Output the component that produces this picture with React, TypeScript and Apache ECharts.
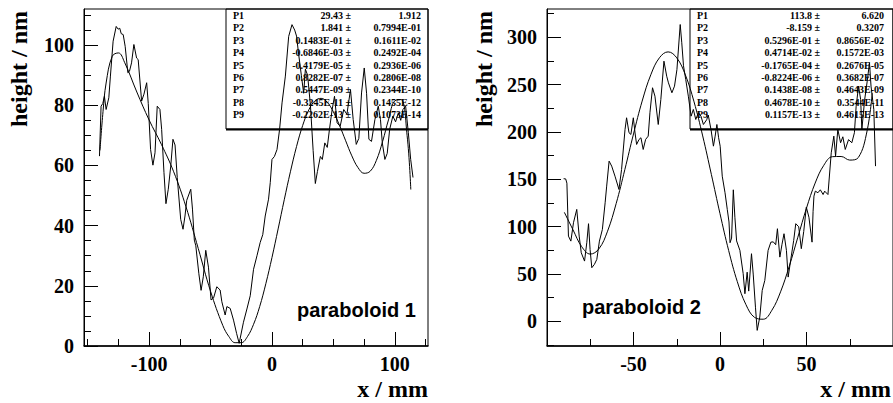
import React, { useEffect, useRef } from "react";
import * as echarts from "echarts";

// ---------- data: paraboloid 1 (left) ----------
const leftProfileX = [
  -140.4, -139.1, -137.7, -136.4, -135.0, -132.8, -131.5, -129.3, -126.8, -125.2, -123.9, -122.7, -121.1,
  -119.5, -117.3, -116.0, -114.3, -112.4, -110.2, -108.9, -106.1, -104.2, -102.0, -100.7, -98.8, -96.9,
  -95.2, -93.4, -91.2, -89.8, -87.9, -86.3, -84.4, -82.4, -80.6, -78.9, -77.1, -74.3, -72.4, -70.8,
  -69.4, -66.1, -64.7, -63.2, -62.0, -59.5, -57.7, -55.9, -53.9, -51.7, -49.6, -47.5, -44.9, -42.2,
  -40.8, -38.1, -36.7, -34.0, -31.3, -28.8, -26.7, -23.2, -20.4, -17.7, -15.0, -12.2, -9.6, -7.5,
  -5.5, -2.8, -1.4, 0.0, 2.0, 4.1, 6.2, 8.2, 10.9, 13.6, 16.3, 18.5, 20.0, 21.7, 23.9, 25.8, 27.2,
  29.0, 31.3, 33.5, 35.3, 37.0, 39.4, 41.0, 43.0, 45.0, 46.8, 49.0, 50.9, 53.0, 55.5, 58.4, 61.0,
  63.9, 66.1, 68.6, 70.7, 72.9, 75.1, 77.0, 78.9, 81.0, 83.8, 86.5, 88.3, 89.8, 91.9, 93.8, 95.8,
  98.4, 100.6, 102.9, 104.8, 106.6, 108.8, 111.0, 112.9, 114.8,
];
const leftProfileY = [
  63.1, 79.7, 80.6, 83.0, 78.6, 82.5, 89.7, 101.3, 106.2, 105.3, 105.6, 103.8, 103.5,
  99.6, 90.8, 91.3, 94.1, 100.2, 95.7, 95.2, 81.4, 83.7, 87.5, 80.6, 65.3, 60.1,
  64.2, 79.7, 78.6, 72.0, 57.6, 47.3, 52.1, 59.8, 68.7, 66.8, 56.0, 42.1, 38.8, 43.2,
  48.4, 52.1, 45.5, 35.2, 33.3, 24.0, 18.5, 23.0, 31.8, 26.2, 15.3, 16.0, 19.7, 18.6,
  14.7, 10.3, 13.1, 12.5, 8.6, 4.2, 0.9, 7.9, 12.3, 16.7, 25.5, 30.0, 34.4, 37.0,
  43.2, 48.8, 54.3, 62.0, 63.0, 65.3, 72.0, 80.8, 89.7, 102.9, 106.8, 105.0, 103.0, 97.0, 90.0, 84.0, 92.0,
  90.0, 80.0, 65.0, 54.0, 58.0, 63.0, 62.0, 67.5, 66.0, 72.0, 78.6, 83.0, 74.2, 73.0, 78.6, 77.0,
  85.2, 75.3, 67.0, 69.0, 84.1, 92.4, 84.0, 68.7, 68.0, 75.3, 79.7, 75.3, 67.5, 62.0, 64.0, 72.0,
  76.4, 74.5, 77.5, 75.0, 78.6, 79.7, 70.9, 62.0, 56.0,
];
const leftFitX = [
  -140, -137.5, -135, -130, -125, -120, -110, -100, -90, -80, -70, -60, -50, -40, -35, -30, -25, -20, -15,
  -10, -5, 0, 5, 10, 15, 20, 25, 30, 35, 40, 45, 50, 55, 60, 65, 70, 75, 80, 85, 90, 95, 100, 105, 110, 113,
];
const leftFitY = [
  65.0, 78.0, 87.4, 96.3, 97.4, 94.3, 84.4, 75.1, 67.0, 57.9, 46.3, 32.4, 18.2, 6.8, 3.1, 1.1, 1.1, 3.1, 7.2,
  13.1, 20.7, 29.4, 38.9, 48.6, 57.9, 66.3, 73.3, 78.5, 81.5, 82.3, 81.0, 77.8, 73.3, 68.2, 63.2, 59.3, 57.4,
  58.1, 61.7, 67.9, 75.4, 81.5, 81.9, 69.9, 52.0,
];

// ---------- data: paraboloid 2 (right) ----------
const rightProfileX = [
  -90.4, -89.2, -88.5, -87.6, -86.2, -84.7, -82.8, -81.4, -80.2, -78.3, -77.0, -76.0, -75.1, -74.1, -72.6,
  -71.2, -69.7, -68.0, -66.4, -65.5, -64.1, -62.6, -60.7, -58.4, -56.9, -54.9, -54.0, -52.6, -51.5, -50.1,
  -49.1, -48.2, -46.8, -45.7, -44.4, -43.0, -41.5, -40.5, -39.0, -37.6, -35.7, -34.2, -32.4, -30.8, -29.8,
  -27.8, -26.3, -24.9, -23.0, -22.1, -21.1, -19.8, -18.3, -16.7, -15.4, -14.0, -12.5, -11.0, -9.6, -7.7,
  -6.8, -5.2, -3.8, -2.8, -1.8, -0.8, 0.1, 1.3, 2.9, 4.2, 5.2, 5.8, 6.7, 7.7, 8.6, 9.6, 11.5, 13.4, 14.4,
  15.7, 16.6, 18.2, 19.2, 20.5, 21.5, 23.0, 24.4, 25.9, 27.8, 29.4, 30.8, 32.2, 33.2, 34.6, 35.8, 37.0,
  38.4, 39.4, 41.3, 42.6, 43.8, 45.5, 47.0, 48.4, 49.9, 51.4, 53.2, 53.8, 54.3, 55.1, 56.6, 58.0, 59.6,
  60.5, 62.4, 64.3, 65.8, 66.8, 68.1, 69.7, 71.0, 72.4, 74.3, 76.2, 77.7, 78.7, 80.1, 81.3, 82.0, 83.6,
  85.1, 86.4, 87.3, 88.9, 89.9,
];
const rightProfileY = [
  150.7, 150.5, 146.0, 90.1, 84.8, 104.2, 118.3, 90.1, 72.5, 63.7, 83.1, 103.2, 76.0, 56.7, 60.2,
  65.5, 84.8, 97.1, 125.3, 142.9, 169.3, 164.0, 153.4, 139.4, 160.5, 202.7, 215.1, 199.3, 197.5, 215.1,
  199.0, 186.9, 192.2, 194.0, 181.6, 192.2, 195.7, 220.4, 246.8, 237.9, 208.0, 234.4, 274.9, 259.0, 252.0,
  241.5, 248.5, 266.0, 313.6, 294.3, 270.0, 255.5, 237.9, 216.8, 223.9, 213.3, 220.4, 216.8, 208.0, 213.0,
  218.0, 202.7, 185.1, 195.7, 208.0, 194.0, 185.0, 153.4, 135.9, 118.3, 105.0, 83.1, 88.0, 139.0, 110.0,
  85.0, 75.0, 50.4, 29.2, 52.0, 32.0, 71.5, 50.0, 15.0, -9.5, 4.6, 32.7, 43.3, 75.0, 83.7, 84.0, 81.0,
  97.9, 67.9, 81.0, 92.6, 75.0, 46.8, 70.0, 85.5, 103.2, 100.0, 76.8, 95.0, 120.7, 110.0, 83.7, 116.0,
  132.3, 137.6, 135.9, 139.0, 134.0, 137.6, 134.0, 178.1, 195.7, 174.6, 202.7, 188.7, 195.0, 181.6,
  192.0, 188.7, 199.3, 227.3, 248.5, 234.4, 202.7, 234.0, 253.8, 273.2, 248.5, 223.9, 164.0,
];
const rightFitX = [
  -90, -85, -80, -75, -70, -65, -60, -55, -50, -45, -40, -35, -30, -25, -20, -15, -10, -5, 0, 5, 10, 15,
  20, 25, 30, 35, 40, 45, 50, 55, 60, 65, 70, 75, 80, 85, 88,
];
const rightFitY = [
  115.3, 96.9, 79.1, 71.1, 76.6, 95.3, 124.6, 160.4, 198.0, 232.7, 260.5, 278.5, 284.7, 278.4, 260.3,
  231.9, 195.9, 155.3, 113.8, 74.9, 42.0, 17.7, 4.2, 2.3, 11.8, 31.2, 58.1, 88.9, 119.7, 146.1, 164.9,
  174.0, 174.2, 170.4, 173.2, 201.1, 241.1,
];

// ---------- axis ticks ----------
const leftXMajor = [-100, 0, 100];
const leftXMinor = [-150, -125, -75, -50, -25, 25, 50, 75, 125];
const leftYMajor = [0, 20, 40, 60, 80, 100];
const leftYMinor = [5, 10, 15, 25, 30, 35, 45, 50, 55, 65, 70, 75, 85, 90, 95, 105, 110];
const rightXMajor = [-50, 0, 50];
const rightXMinor = [-75, -25, 25, 75];
const rightYMajor = [0, 50, 100, 150, 200, 250, 300];
const rightYMinor = [-25, 25, 75, 125, 175, 225, 275, 325];

// ---------- fit parameters ----------
const paramNames = ["P1", "P2", "P3", "P4", "P5", "P6", "P7", "P8", "P9"];
const leftParamValues = [
  "29.43", "1.841", "0.1483E-01", "-0.6846E-03", "-0.4179E-05", "0.8282E-07", "0.5447E-09", "-0.3245E-11", "-0.2262E-13",
];
const leftParamErrors = [
  "1.912", "0.7994E-01", "0.1611E-02", "0.2492E-04", "0.2936E-06", "0.2806E-08", "0.2344E-10", "0.1455E-12", "0.1073E-14",
];
const rightParamValues = [
  "113.8", "-8.159", "0.5296E-01", "0.4714E-02", "-0.1765E-04", "-0.8224E-06", "0.1438E-08", "0.4678E-10", "0.1157E-13",
];
const rightParamErrors = [
  "6.620", "0.3207", "0.8656E-02", "0.1572E-03", "0.2676E-05", "0.3682E-07", "0.4643E-09", "0.3544E-11", "0.4615E-13",
];

const SERIF = '"Liberation Serif", "Times New Roman", serif';
const SANS = '"Liberation Sans", Arial, sans-serif';

const zip = (xs: number[], ys: number[]) => xs.map((x, i) => [x, ys[i]]);

function majorX(gridIndex: number, min: number, max: number, values: number[]) {
  return {
    type: "value",
    gridIndex,
    min,
    max,
    position: "bottom",
    axisLine: { show: true, onZero: false, lineStyle: { color: "#000", width: 1.5 } },
    axisTick: { show: true, inside: true, length: 14, customValues: values, lineStyle: { color: "#000", width: 1 } },
    axisLabel: {
      show: true,
      customValues: values,
      margin: 8,
      color: "#000",
      fontFamily: SERIF,
      fontWeight: "bold",
      fontSize: 20,
    },
    splitLine: { show: false },
  };
}
function minorX(gridIndex: number, min: number, max: number, values: number[]) {
  return {
    type: "value",
    gridIndex,
    min,
    max,
    position: "bottom",
    axisLine: { show: false, onZero: false },
    axisTick: { show: true, inside: true, length: 7, customValues: values, lineStyle: { color: "#000", width: 1 } },
    axisLabel: { show: false },
    splitLine: { show: false },
  };
}
function majorY(gridIndex: number, min: number, max: number, values: number[]) {
  return {
    type: "value",
    gridIndex,
    min,
    max,
    position: "left",
    axisLine: { show: true, onZero: false, lineStyle: { color: "#000", width: 1 } },
    axisTick: { show: true, inside: true, length: 14, customValues: values, lineStyle: { color: "#000", width: 1 } },
    axisLabel: {
      show: true,
      customValues: values,
      margin: 10,
      color: "#000",
      fontFamily: SERIF,
      fontWeight: "bold",
      fontSize: 20,
    },
    splitLine: { show: false },
  };
}
function minorY(gridIndex: number, min: number, max: number, values: number[]) {
  return {
    type: "value",
    gridIndex,
    min,
    max,
    position: "left",
    axisLine: { show: false, onZero: false },
    axisTick: { show: true, inside: true, length: 7, customValues: values, lineStyle: { color: "#000", width: 1 } },
    axisLabel: { show: false },
    splitLine: { show: false },
  };
}

function statsBox(x: number, w: number, labelX: number, valueRight: number, errRight: number, values: string[], errors: string[]) {
  const els: any[] = [
    {
      type: "rect",
      shape: { x, y: 9, width: w, height: 120 },
      style: { fill: "none", stroke: "#000", lineWidth: 1 },
      z: 10,
    },
    {
      type: "line",
      shape: { x1: x, y1: 129.5, x2: x + w, y2: 129.5 },
      style: { stroke: "#000", lineWidth: 2 },
      z: 10,
    },
  ];
  paramNames.forEach((name, i) => {
    const y = 15.5 + i * 12.4;
    const font = { fontFamily: SERIF, fontWeight: "bold", fontSize: 10, fill: "#000" };
    els.push({ type: "text", x: labelX, y, z: 11, style: { ...font, text: name, align: "left", verticalAlign: "middle" } });
    els.push({ type: "text", x: valueRight, y, z: 11, style: { ...font, text: values[i] + " \u00b1", align: "right", verticalAlign: "middle" } });
    els.push({ type: "text", x: errRight, y, z: 11, style: { ...font, text: errors[i], align: "right", verticalAlign: "middle" } });
  });
  return els;
}

export default function App() {
  const ref = useRef<HTMLDivElement>(null);
  useEffect(() => {
    document.body.style.margin = "0";
    const chart = echarts.init(ref.current!, undefined, { renderer: "svg" });
    const lineBase = {
      type: "line",
      showSymbol: false,
      symbol: "none",
      silent: true,
      clip: true,
      lineStyle: { color: "#000", width: 1 },
    };
    chart.setOption({
      animation: false,
      backgroundColor: "#fff",
      grid: [
        { left: 84, top: 9, width: 344, height: 337, show: true, borderColor: "#000", borderWidth: 1, containLabel: false },
        { left: 547, top: 9, width: 346, height: 337, show: true, borderColor: "#000", borderWidth: 1, containLabel: false },
      ],
      xAxis: [
        majorX(0, -153, 127, leftXMajor),
        minorX(0, -153, 127, leftXMinor),
        majorX(1, -100, 100, rightXMajor),
        minorX(1, -100, 100, rightXMinor),
      ],
      yAxis: [
        majorY(0, 0, 112, leftYMajor),
        minorY(0, 0, 112, leftYMinor),
        majorY(1, -26, 330, rightYMajor),
        minorY(1, -26, 330, rightYMinor),
      ],
      series: [
        { ...lineBase, name: "profile 1", xAxisIndex: 0, yAxisIndex: 0, data: zip(leftProfileX, leftProfileY) },
        { ...lineBase, name: "fit 1", xAxisIndex: 0, yAxisIndex: 0, smooth: 0.4, data: zip(leftFitX, leftFitY) },
        { ...lineBase, name: "profile 2", xAxisIndex: 2, yAxisIndex: 2, data: zip(rightProfileX, rightProfileY) },
        { ...lineBase, name: "fit 2", xAxisIndex: 2, yAxisIndex: 2, smooth: 0.4, data: zip(rightFitX, rightFitY) },
      ],
      graphic: [
        ...statsBox(226, 202, 233, 351, 421, leftParamValues, leftParamErrors),
        ...statsBox(690, 203, 697, 820, 884, rightParamValues, rightParamErrors),
        {
          type: "text",
          x: 19,
          y: 69,
          rotation: Math.PI / 2,
          style: { text: "height / nm", fontFamily: SERIF, fontWeight: "bold", fontSize: 24, fill: "#000", align: "center", verticalAlign: "middle" },
        },
        {
          type: "text",
          x: 484,
          y: 69,
          rotation: Math.PI / 2,
          style: { text: "height / nm", fontFamily: SERIF, fontWeight: "bold", fontSize: 24, fill: "#000", align: "center", verticalAlign: "middle" },
        },
        {
          type: "text",
          x: 428,
          y: 389,
          style: { text: "x / mm", fontFamily: SERIF, fontWeight: "bold", fontSize: 24, fill: "#000", align: "right", verticalAlign: "middle" },
        },
        {
          type: "text",
          x: 891,
          y: 389,
          style: { text: "x / mm", fontFamily: SERIF, fontWeight: "bold", fontSize: 24, fill: "#000", align: "right", verticalAlign: "middle" },
        },
        {
          type: "text",
          x: 297,
          y: 310,
          style: { text: "paraboloid 1", fontFamily: SANS, fontWeight: "bold", fontSize: 20, fill: "#000", align: "left", verticalAlign: "middle" },
        },
        {
          type: "text",
          x: 582,
          y: 307,
          style: { text: "paraboloid 2", fontFamily: SANS, fontWeight: "bold", fontSize: 20, fill: "#000", align: "left", verticalAlign: "middle" },
        },
      ],
    });
    return () => chart.dispose();
  }, []);
  return <div ref={ref} style={{ position: "absolute", left: 0, top: 0, width: 893, height: 403 }} />;
}
